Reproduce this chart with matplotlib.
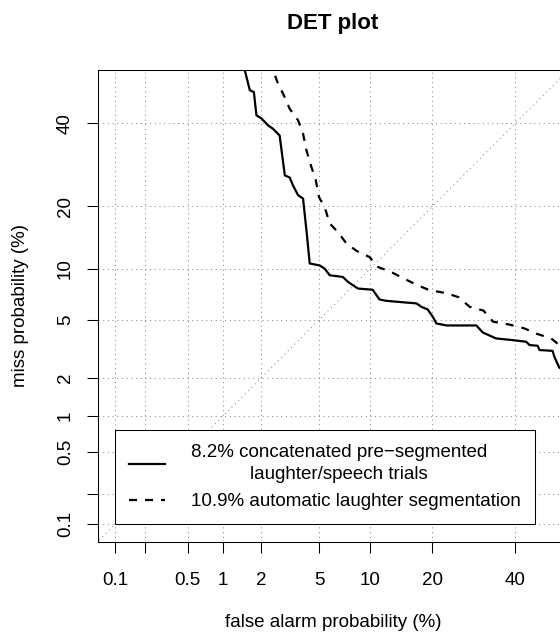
import numpy as np
import matplotlib
matplotlib.use("Agg")
import matplotlib.pyplot as plt
from statistics import NormalDist

plt.rcParams['font.family'] = ['Liberation Sans', 'DejaVu Sans']
plt.rcParams['font.size'] = 13.5

# DET curves, values in percent (false alarm, miss)
fa_concat = [1.47, 1.50, 1.64, 1.76, 1.84, 2.01, 2.25, 2.44, 2.72, 2.96, 3.20, 3.37,
             3.65, 3.94, 4.15, 4.36, 5.05, 5.43, 5.83, 7.0, 7.5, 8.0, 8.56, 10.3,
             11.2, 12.1, 14.2, 17.0, 17.9, 19.1, 20.1, 20.8, 22.9, 29.8, 31.4, 34.8,
             39.3, 43.0, 43.9, 46.2, 46.7, 50.4, 50.9, 52.3, 55.1]
miss_concat = [57.6, 54.8, 49.2, 48.7, 42.2, 41.3, 39.4, 38.5, 36.7, 26.7, 26.2, 24.4,
               22.3, 21.6, 15.6, 10.65, 10.4, 10.0, 9.2, 9.0, 8.45, 8.09, 7.74, 7.62,
               6.68, 6.56, 6.45, 6.33, 6.03, 5.81, 5.23, 4.75, 4.61, 4.61, 4.15, 3.79,
               3.69, 3.60, 3.42, 3.38, 3.16, 3.12, 2.84, 2.37, 2.2]

fa_auto = [2.35, 2.44, 2.65, 2.88, 3.20, 3.65, 3.94, 4.15, 4.47, 4.77, 5.0, 5.43,
           5.83, 6.55, 7.34, 8.38, 9.92, 11.0, 12.8, 14.8, 17.0, 19.4, 22.9, 25.6,
           28.2, 31.6, 34.0, 38.4, 42.5, 45.8, 50.0, 52.3, 55.1]
miss_auto = [57.6, 54.8, 51.1, 48.2, 44.0, 40.8, 37.2, 32.8, 28.7, 25.6, 21.9, 19.9,
             16.8, 15.3, 13.5, 12.4, 11.5, 10.2, 9.6, 8.83, 8.14, 7.58, 7.28, 6.89,
             6.03, 5.72, 4.88, 4.67, 4.41, 4.08, 3.79, 3.42, 3.26]

labels = ['8.2% concatenated pre\u2212segmented\nlaughter/speech trials',
          '10.9% automatic laughter segmentation']

ticks = [0.1, 0.2, 0.5, 1, 2, 5, 10, 20, 40]
tick_labels = ['0.1', '', '0.5', '1', '2', '5', '10', '20', '40']

nd = NormalDist()
_ppf = np.vectorize(nd.inv_cdf, otypes=[float])
_cdf = np.vectorize(nd.cdf, otypes=[float])


def probit(p):
    p = np.clip(np.asarray(p, dtype=float) / 100.0, 1e-12, 1 - 1e-12)
    return _ppf(p)


def inv_probit(z):
    return _cdf(np.asarray(z, dtype=float)) * 100.0


# R style limits: 0.1% .. 50% extended by 4%
z0, z1 = nd.inv_cdf(0.001), 0.0
ext = 0.04 * (z1 - z0)
lim = (nd.cdf(z0 - ext) * 100, nd.cdf(z1 + ext) * 100)

fig = plt.figure(figsize=(5.6, 6.32), dpi=100)
ax = fig.add_axes([97.5 / 560, 90.3 / 632, 471.1 / 560, 471.7 / 632])
ax.set_xscale('function', functions=(probit, inv_probit))
ax.set_yscale('function', functions=(probit, inv_probit))
ax.set_xlim(*lim)
ax.set_ylim(*lim)

grid_kw = dict(color='#8a8a8a', lw=0.75, linestyle=(0, (1, 3.5)))
for t in ticks:
    ax.axvline(t, zorder=1, **grid_kw)
    ax.axhline(t, zorder=1, **grid_kw)
ax.plot([1e-4, 99.99], [1e-4, 99.99], zorder=1, **grid_kw)

l1, = ax.plot(fa_concat, miss_concat, color='black', lw=1.6, zorder=3)
l2, = ax.plot(fa_auto, miss_auto, color='black', lw=1.6,
              linestyle=(0, (3.6, 3.6)), zorder=3)

ax.set_xticks(ticks, tick_labels)
ax.set_yticks(ticks, tick_labels)
ax.minorticks_off()
ax.tick_params(length=8, width=0.75, pad=14)
ax.tick_params(axis='y', labelrotation=90, pad=9)
for lbl in ax.get_yticklabels():
    lbl.set_va('center')
for s in ax.spines.values():
    s.set_linewidth(0.75)

leg = ax.legend([l1, l2], labels, loc='lower left', bbox_to_anchor=(0.1, 0.1),
                bbox_transform=ax.transData, borderaxespad=0, fancybox=False,
                edgecolor='black', framealpha=1, handlelength=1.9,
                handletextpad=1.4, borderpad=0.75, labelspacing=0.52,
                fontsize=13.5)
leg.get_frame().set_linewidth(0.75)
for t in leg.get_texts():
    t.set_multialignment('center')
    t.set_linespacing(1.4)

ax.set_xlabel('false alarm probability (%)')
ax.set_ylabel('miss probability (%)')
ax.xaxis.set_label_coords(0.5, -0.154)
ax.yaxis.label.set_va('center')
ax.yaxis.set_label_coords(-0.1645, 0.5)

fig.text(333 / 560, 1 - 23 / 632, 'DET plot', ha='center', va='center',
         fontsize=16, fontweight='bold')

fig.savefig('out.png', dpi=100)
